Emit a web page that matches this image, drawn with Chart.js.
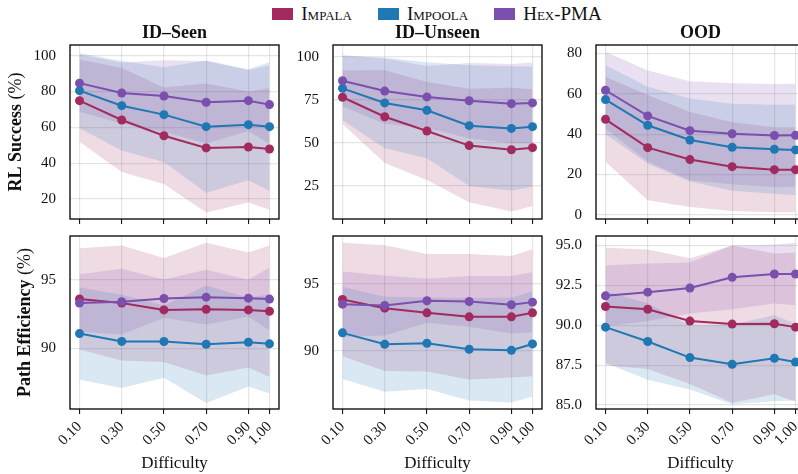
<!DOCTYPE html>
<html>
<head>
<meta charset="utf-8">
<script src="https://cdn.jsdelivr.net/npm/chart.js@4.4.1/dist/chart.umd.min.js"></script>
<style>
  html, body { margin: 0; padding: 0; background: #fff; width: 798px; height: 474px; overflow: hidden; }
  #wrap { position: relative; width: 798px; height: 474px; }
  #wrap canvas { position: absolute; }
  #legend {
    position: absolute; top: 4px; left: 0; width: 874px;
    display: flex; justify-content: center; gap: 26px;
    font-family: 'Liberation Serif', 'Times New Roman', serif;
    font-variant: small-caps; font-size: 19px; line-height: 20px; color: #111;
  }
  #legend span { display: flex; align-items: center; }
  #legend i { display: inline-block; width: 21px; height: 12px; margin-right: 8px; }
</style>
</head>
<body>
<div id="wrap">
  <div id="legend">
    <span><i style="background:#a22a5f"></i>Impala</span>
    <span><i style="background:#1f77b4"></i>Impoola</span>
    <span><i style="background:#7a4fad"></i>Hex-PMA</span>
  </div>
  <canvas id="c0" width="290" height="232"></canvas>
  <canvas id="c1" width="290" height="232"></canvas>
  <canvas id="c2" width="290" height="232"></canvas>
  <canvas id="c3" width="290" height="254"></canvas>
  <canvas id="c4" width="290" height="254"></canvas>
  <canvas id="c5" width="290" height="254"></canvas>
</div>
<script>
const difficulty = [0.1, 0.3, 0.5, 0.7, 0.9, 1.0];

// RL success (%), mean and std per difficulty
const seenRlImpala = [74.9, 64.1, 55.3, 48.5, 49.0, 47.9];
const seenRlImpalaSd = [23, 29, 27, 36, 31, 34];
const seenRlImpoola = [80.5, 72.1, 67.1, 60.4, 61.5, 60.4];
const seenRlImpoolaSd = [21, 25, 26.5, 37, 31, 36];
const seenRlHex = [84.7, 79.2, 77.5, 74.0, 74.9, 72.7];
const seenRlHexSd = [16, 17, 20, 23, 17, 22];

const unseenRlImpala = [76.4, 65.1, 56.8, 48.3, 45.9, 47.1];
const unseenRlImpalaSd = [15.5, 27, 28.5, 33, 36, 34];
const unseenRlImpoola = [81.6, 73.1, 68.8, 59.9, 58.3, 59.3];
const unseenRlImpoolaSd = [18.6, 26.4, 27.9, 35.1, 36.2, 34.9];
const unseenRlHex = [86.0, 80.0, 76.6, 74.4, 72.7, 73.1];
const unseenRlHexSd = [15, 19, 18, 22, 23, 23.5];

const oodRlImpala = [47.3, 33.3, 27.4, 23.9, 22.4, 22.4];
const oodRlImpalaSd = [21, 26, 23.5, 22, 21, 21];
const oodRlImpoola = [57.1, 44.4, 37.1, 33.5, 32.5, 32.2];
const oodRlImpoolaSd = [17, 19, 20.5, 21.5, 22, 22.5];
const oodRlHex = [61.7, 49.0, 41.7, 40.2, 39.3, 39.4];
const oodRlHexSd = [19, 22.5, 24.5, 25, 25.5, 25.5];

// path efficiency (%)
const seenPeImpala = [93.6, 93.3, 92.8, 92.85, 92.8, 92.7];
const seenPeImpalaSd = [3.7, 4.2, 3.8, 4.85, 4.2, 4.8];
const seenPeImpoola = [91.07, 90.5, 90.49, 90.29, 90.44, 90.32];
const seenPeImpoolaSd = [3.37, 3.4, 2.64, 4.29, 3.24, 3.62];
const seenPeHex = [93.3, 93.4, 93.63, 93.73, 93.66, 93.59];
const seenPeHexSd = [2.1, 2.4, 1.4, 2.0, 1.34, 2.3];

const unseenPeImpala = [93.85, 93.2, 92.85, 92.55, 92.55, 92.85];
const unseenPeImpalaSd = [4.25, 4.7, 4.4, 4.7, 4.55, 4.75];
const unseenPeImpoola = [91.35, 90.5, 90.57, 90.12, 90.05, 90.52];
const unseenPeImpoolaSd = [3.45, 3.55, 3.42, 3.84, 3.92, 3.94];
const unseenPeHex = [93.5, 93.4, 93.75, 93.7, 93.45, 93.65];
const unseenPeHexSd = [2.45, 2.25, 1.65, 1.9, 2.15, 2.25];

const oodPeImpala = [91.17, 91.0, 90.26, 90.07, 90.09, 89.88];
const oodPeImpalaSd = [3.68, 3.75, 3.94, 4.93, 4.41, 4.67];
const oodPeImpoola = [89.88, 88.98, 87.97, 87.55, 87.93, 87.69];
const oodPeImpoolaSd = [2.25, 2.4, 2.0, 2.5, 2.7, 2.4];
const oodPeHex = [91.84, 92.07, 92.33, 93.0, 93.21, 93.21];
const oodPeHexSd = [1.9, 1.8, 1.6, 2.0, 1.85, 1.96];

const titles = ['ID\u2013Seen', 'ID\u2013Unseen', 'OOD'];
const rlTicks = [[20, 40, 60, 80, 100], [25, 50, 75, 100], [0, 20, 40, 60, 80]];
const peTicks = [[90, 95], [90, 95], [85, 87.5, 90, 92.5, 95]];

const SERIF = "'Liberation Serif', 'Times New Roman', serif";
const INK = '#111';
const GRID = 'rgba(0,0,0,0.1)';
const colors = ['#a22a5f', '#1f77b4', '#7a4fad'];

function rgba(hex, a) {
  const n = parseInt(hex.slice(1), 16);
  return `rgba(${n >> 16},${(n >> 8) & 255},${n & 255},${a})`;
}

function pts(mean, sd, sign) {
  return difficulty.map((x, i) => ({ x, y: mean[i] + sign * (sd ? sd[i] : 0) }));
}

// bands (upper filled down to lower) underneath, mean lines with markers on top
function buildSets(means, sds) {
  const sets = [];
  means.forEach((m, k) => {
    const clear = 'rgba(0,0,0,0)';
    sets.push({ data: pts(m, sds[k], 1), fill: '+1', backgroundColor: rgba(colors[k], 0.17),
      borderColor: clear, borderWidth: 0, pointRadius: 0, order: 12 - k });
    sets.push({ data: pts(m, sds[k], -1), fill: false,
      borderColor: clear, borderWidth: 0, pointRadius: 0, order: 12 - k });
  });
  means.forEach((m, k) => {
    sets.push({ data: pts(m, null, 0), fill: false, borderColor: colors[k], backgroundColor: colors[k],
      borderWidth: 2, pointRadius: 4.5, pointBorderWidth: 0, order: 2 - k });
  });
  return sets;
}

const framePlugin = {
  id: 'frame',
  afterDatasetsDraw(chart) {
    const { ctx, chartArea: a } = chart;
    ctx.save();
    ctx.strokeStyle = '#000';
    ctx.lineWidth = 1.3;
    ctx.strokeRect(a.left, a.top, a.right - a.left, a.bottom - a.top);
    ctx.restore();
  }
};

const panelTitle = {
  id: 'panelTitle',
  afterDraw(chart, args, opts) {
    if (!opts.text) return;
    const { ctx, chartArea: a } = chart;
    ctx.save();
    ctx.font = `bold 18px ${SERIF}`;
    ctx.fillStyle = INK;
    ctx.textAlign = 'center';
    ctx.textBaseline = 'middle';
    ctx.fillText(opts.text, (a.left + a.right) / 2, a.top - 12);
    ctx.restore();
  }
};

// y label: bold name followed by a regular "(%)"
const yTitle = {
  id: 'yTitle',
  afterDraw(chart, args, opts) {
    if (!opts.text) return;
    const { ctx, chartArea: a } = chart;
    const bold = `bold 18px ${SERIF}`, reg = `18px ${SERIF}`;
    ctx.save();
    ctx.font = bold;
    const w1 = ctx.measureText(opts.text).width;
    ctx.font = reg;
    const w2 = ctx.measureText(' (%)').width;
    ctx.translate(opts.x, (a.top + a.bottom) / 2);
    ctx.rotate(-Math.PI / 2);
    ctx.fillStyle = INK;
    ctx.textBaseline = 'middle';
    ctx.textAlign = 'left';
    const x0 = -(w1 + w2) / 2;
    ctx.font = bold;
    ctx.fillText(opts.text, x0, 0);
    ctx.font = reg;
    ctx.fillText(' (%)', x0 + w1, 0);
    ctx.restore();
  }
};

function makePanel(idx, cfg) {
  const col = idx % 3;
  const bottom = idx >= 3;
  const canvas = document.getElementById('c' + idx);
  canvas.style.left = [0, 263, 526][col] + 'px';
  canvas.style.top = (bottom ? 220 : 0) + 'px';

  new Chart(canvas, {
    type: 'line',
    data: { datasets: buildSets(cfg.means, cfg.sds) },
    plugins: [framePlugin, panelTitle, yTitle],
    options: {
      responsive: false,
      animation: false,
      events: [],
      layout: { padding: { top: bottom ? 16 : 45, right: 11, bottom: 0, left: 0 } },
      plugins: {
        legend: { display: false },
        tooltip: { enabled: false },
        panelTitle: { text: bottom ? '' : titles[col] },
        yTitle: { text: col === 0 ? cfg.ylabel : '', x: bottom ? 25 : 16 }
      },
      scales: {
        x: {
          type: 'linear', min: 0.055, max: 1.045,
          afterBuildTicks: s => { s.ticks = difficulty.map(v => ({ value: v })); },
          afterFit: s => {
            s.height = bottom ? 65 : 13;
            s.paddingLeft = 0;
            s.paddingRight = 0;
          },
          grid: { color: GRID, lineWidth: 1.2, tickColor: '#000', tickLength: 5, tickWidth: 1 },
          border: { display: false },
          ticks: {
            display: bottom, autoSkip: false, minRotation: 45, maxRotation: 45, padding: 4,
            color: INK, font: { family: SERIF, size: 15 },
            callback: v => Number(v).toFixed(2)
          },
          title: { display: bottom, text: 'Difficulty', color: INK, font: { family: SERIF, size: 17 }, padding: 0 }
        },
        y: {
          min: cfg.min, max: cfg.max,
          afterBuildTicks: s => { s.ticks = cfg.ticks.map(v => ({ value: v })); },
          afterFit: s => {
            s.width = 70;
            s.paddingTop = 0;
            s.paddingBottom = 0;
          },
          grid: { color: GRID, lineWidth: 1.2, drawTicks: false },
          border: { display: false },
          ticks: {
            autoSkip: false, padding: 14, color: INK, font: { family: SERIF, size: 15 },
            callback: v => cfg.decimals ? Number(v).toFixed(1) : String(v)
          }
        }
      }
    }
  });
}

makePanel(0, { ylabel: 'RL Success', min: 8.8, max: 106, ticks: rlTicks[0],
  means: [seenRlImpala, seenRlImpoola, seenRlHex], sds: [seenRlImpalaSd, seenRlImpoolaSd, seenRlHexSd] });
makePanel(1, { min: 5.6, max: 106.8, ticks: rlTicks[1],
  means: [unseenRlImpala, unseenRlImpoola, unseenRlHex], sds: [unseenRlImpalaSd, unseenRlImpoolaSd, unseenRlHexSd] });
makePanel(2, { min: -2.0, max: 84.1, ticks: rlTicks[2],
  means: [oodRlImpala, oodRlImpoola, oodRlHex], sds: [oodRlImpalaSd, oodRlImpoolaSd, oodRlHexSd] });
makePanel(3, { ylabel: 'Path Efficiency', min: 85.56, max: 98.2, ticks: peTicks[0],
  means: [seenPeImpala, seenPeImpoola, seenPeHex], sds: [seenPeImpalaSd, seenPeImpoolaSd, seenPeHexSd] });
makePanel(4, { min: 85.65, max: 98.6, ticks: peTicks[1],
  means: [unseenPeImpala, unseenPeImpoola, unseenPeHex], sds: [unseenPeImpalaSd, unseenPeImpoolaSd, unseenPeHexSd] });
makePanel(5, { min: 84.75, max: 95.59, ticks: peTicks[2], decimals: true,
  means: [oodPeImpala, oodPeImpoola, oodPeHex], sds: [oodPeImpalaSd, oodPeImpoolaSd, oodPeHexSd] });
</script>
</body>
</html>
